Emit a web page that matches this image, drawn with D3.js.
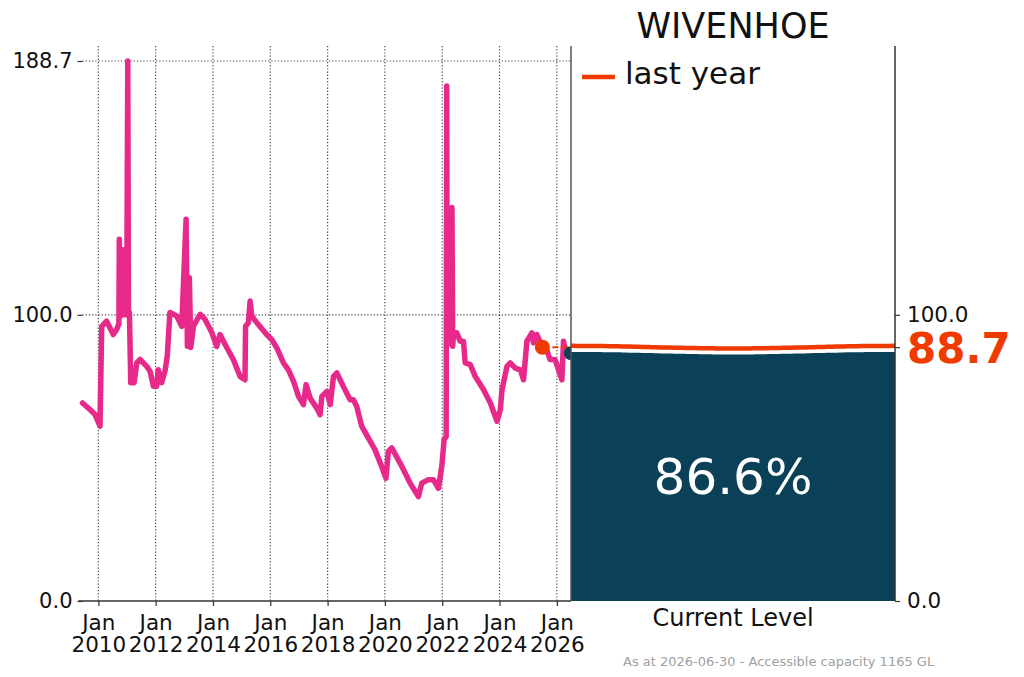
<!DOCTYPE html>
<html><head><meta charset="utf-8">
<script src="https://cdn.jsdelivr.net/npm/d3@7"></script>
<style>
body{margin:0;background:#fff;}
svg{display:block;}
text{font-family:"DejaVu Sans",sans-serif;}
</style>
</head><body>
<svg id="chart" width="1024" height="677"></svg>
<script>
// ---------- data ----------
const dates = [
"2009-06-13","2009-09-16","2009-11-19","2010-01-22","2010-02-13","2010-04-16","2010-07-10","2010-08-22",
"2010-09-20","2010-09-25","2010-10-05","2010-10-13","2010-11-07","2010-11-20","2010-12-10","2010-12-28",
"2011-01-11","2011-01-20","2011-02-01","2011-02-18","2011-04-02","2011-05-06","2011-06-17","2011-09-10",
"2011-10-22","2011-12-04","2012-01-15","2012-02-03","2012-03-17","2012-04-29","2012-05-28","2012-07-01",
"2012-09-26","2012-11-29","2013-01-23","2013-02-09","2013-03-06","2013-03-24","2013-04-27","2013-07-21",
"2013-09-22","2013-12-17","2014-02-18","2014-04-01","2014-06-25","2014-09-17","2014-12-11","2015-02-13",
"2015-02-20","2015-03-28","2015-04-19","2015-05-10","2015-08-02","2015-11-16","2016-01-19","2016-03-23",
"2016-06-17","2016-08-19","2016-10-23","2016-12-26","2017-02-27","2017-04-01","2017-05-23","2017-08-16",
"2017-09-27","2017-10-19","2017-12-22","2018-02-03","2018-03-17","2018-04-29","2018-07-20","2018-10-15",
"2018-11-25","2019-01-07","2019-03-11","2019-08-27","2019-11-21","2020-01-15","2020-02-14","2020-03-28",
"2020-07-13","2020-11-17","2021-03-03","2021-04-15","2021-07-09","2021-09-10","2021-11-13","2021-12-26",
"2022-01-25","2022-02-20","2022-02-27","2022-03-05","2022-03-25","2022-04-10","2022-04-25","2022-05-05",
"2022-05-14","2022-05-26","2022-07-05","2022-08-17","2022-09-29","2022-10-20","2022-12-24","2023-02-25",
"2023-06-12","2023-09-06","2023-11-30","2024-01-12","2024-02-01","2024-04-05","2024-05-17","2024-07-20",
"2024-09-22","2024-11-02","2024-12-15","2025-02-17","2025-03-09","2025-04-20","2025-06-30","2025-08-24",
"2025-10-05","2025-12-08","2026-03-06","2026-03-26","2026-04-17","2026-06-30"
];
const levels = [
69.2,66.9,65.2,61.1,96.0,97.8,93.1,94.9,
97.0,126.4,100.0,99.6,122.7,100.0,100.8,100.0,
188.7,100.8,100.8,76.3,76.3,83.3,84.4,82.0,
80.3,75.0,75.0,80.8,76.3,80.3,85.5,100.8,
99.6,96.0,133.4,89.0,113.0,88.6,96.0,100.2,
98.4,93.8,89.0,93.1,88.6,84.4,78.5,77.3,
96.0,97.2,104.8,99.6,96.6,93.1,91.4,88.5,
83.2,80.8,76.8,71.5,68.6,75.6,70.9,67.4,
65.1,71.5,73.2,68.6,78.5,79.7,75.0,70.3,
70.3,68.0,61.1,52.9,47.0,42.9,52.3,53.5,
48.2,41.2,36.5,41.2,42.4,42.4,39.4,47.0,
56.4,57.5,180.0,91.4,95.0,90.0,135.0,137.5,
89.0,93.7,93.7,90.8,90.8,83.2,82.6,78.5,
73.8,69.2,62.8,66.9,73.8,82.0,83.2,81.4,
80.8,77.3,90.8,93.7,90.2,93.1,88.7,87.8,
84.4,84.4,77.3,90.8,87.8,86.6
];
const yTicks = [0, 100, 188.7];
const xTickYears = [2010,2012,2014,2016,2018,2020,2022,2024,2026];
const currentDate = "2026-06-30";
const currentLevel = 86.6;
const lastYearDate = "2025-06-30";
const lastYearLevel = 88.7;
const titleText = "WIVENHOE";
const legendText = "last year";
const panelLabel = "Current Level";
const footerText = "As at 2026-06-30 - Accessible capacity 1165 GL";

// ---------- style ----------
const PINK = "#e7298a", ORANGE = "#ef3b00", NAVY = "#0b4158", GRID = "#444", AXIS = "#333";
const parse = d3.timeParse("%Y-%m-%d");
const series = dates.map((d,i)=>({date:parse(d), v:levels[i]}));

const svg = d3.select("#chart");
const L = {x0:82.5, x1:571, yTop:46, yBot:601};
const P = {x0:571, x1:895};

const x = d3.scaleTime().domain([parse(dates[0]), parse(currentDate)]).range([L.x0, L.x1]);
const y = d3.scaleLinear().domain([0, 188.7]).range([L.yBot, 61]);

// gridlines
const g = svg.append("g");
const tickDates = xTickYears.map(yr => new Date(yr,0,1));
g.selectAll("line.vg").data(tickDates).join("line")
  .attr("x1",d=>x(d)).attr("x2",d=>x(d)).attr("y1",L.yTop).attr("y2",L.yBot)
  .attr("stroke",GRID).attr("stroke-width",1.2).attr("stroke-dasharray","1.2,2");
g.selectAll("line.hg").data(yTicks.filter(d=>d>0)).join("line")
  .attr("x1",L.x0).attr("x2",L.x1).attr("y1",d=>y(d)).attr("y2",d=>y(d))
  .attr("stroke",GRID).attr("stroke-width",1.2).attr("stroke-dasharray","1.2,2");

// left axis
const yAxis = svg.append("g").attr("transform",`translate(${L.x0},0)`)
  .call(d3.axisLeft(y).tickValues(yTicks).tickFormat(d3.format(".1f")).tickSize(5).tickPadding(5));
yAxis.select(".domain").remove();
yAxis.selectAll("line").attr("stroke",AXIS).attr("stroke-width",1.2);
yAxis.selectAll("text").attr("font-size",21).attr("fill","#111").attr("font-family","DejaVu Sans");

// bottom axis
const xAxis = svg.append("g").attr("transform",`translate(0,${L.yBot})`)
  .call(d3.axisBottom(x).tickValues(tickDates).tickSize(5).tickFormat(""));
xAxis.select(".domain").attr("stroke",AXIS).attr("stroke-width",1.5).attr("d",`M${L.x0-4},0H${L.x1}`);
xAxis.selectAll("line").attr("stroke",AXIS).attr("stroke-width",1.2);
xAxis.selectAll(".tick").each(function(d){
  const t = d3.select(this).append("text").attr("fill","#111").attr("font-size",21.5)
    .attr("text-anchor","middle").attr("font-family","DejaVu Sans");
  t.append("tspan").attr("x",0).attr("y",29).text(d3.timeFormat("%b")(d));
  t.append("tspan").attr("x",0).attr("y",51).text(d3.timeFormat("%Y")(d));
});

// pink line
const line = d3.line().x(d=>x(d.date)).y(d=>y(d.v));
svg.append("path").datum(series).attr("d",line).attr("fill","none")
  .attr("stroke",PINK).attr("stroke-width",5.5).attr("stroke-linejoin","round").attr("stroke-linecap","round");

// dashed line from last year to panel
svg.append("line").attr("x1",x(parse(lastYearDate))).attr("x2",P.x0)
  .attr("y1",y(lastYearLevel)).attr("y2",y(lastYearLevel))
  .attr("stroke",ORANGE).attr("stroke-width",2).attr("stroke-dasharray","6,4");
svg.append("circle").attr("cx",x(parse(lastYearDate))).attr("cy",y(lastYearLevel)).attr("r",7.5).attr("fill",ORANGE);
svg.append("circle").attr("cx",x(parse(currentDate))).attr("cy",y(currentLevel)).attr("r",7).attr("fill",NAVY);

// ---------- right panel ----------
svg.append("rect").attr("x",P.x0).attr("y",L.yTop).attr("width",P.x1-P.x0).attr("height",L.yBot-L.yTop).attr("fill","#fff");
const wave = d3.range(0,1.0001,0.02); // decorative ripple positions
const px = d3.scaleLinear().domain([0,1]).range([P.x0,P.x1]);
const ripple = t => -1.3*Math.cos(2*Math.PI*t);
svg.append("path").datum(wave)
  .attr("d", d3.area().x(t=>px(t)).y0(L.yBot).y1(t=>y(currentLevel)+ripple(t)).curve(d3.curveBasis))
  .attr("fill",NAVY);
const lyLine = d3.line().x(t=>px(t)).y(t=>y(lastYearLevel)+ripple(t)).curve(d3.curveBasis);
svg.append("path").datum(wave).attr("d",lyLine).attr("fill","none").attr("stroke","#fff").attr("stroke-width",8.5);
svg.append("path").datum(wave).attr("d",lyLine).attr("fill","none").attr("stroke",ORANGE).attr("stroke-width",4.5);

// panel spines
svg.append("line").attr("x1",P.x0).attr("x2",P.x0).attr("y1",L.yTop).attr("y2",L.yBot).attr("stroke","#555").attr("stroke-width",1.5);
svg.append("line").attr("x1",P.x1).attr("x2",P.x1).attr("y1",L.yTop).attr("y2",L.yBot).attr("stroke","#333").attr("stroke-width",1.5);

// right axis
const rAxis = svg.append("g").attr("transform",`translate(${P.x1},0)`)
  .call(d3.axisRight(y).tickValues([0,100,lastYearLevel]).tickFormat(d3.format(".1f")).tickSize(5).tickPadding(7));
rAxis.select(".domain").remove();
rAxis.selectAll("line").attr("stroke",AXIS).attr("stroke-width",1.2);
rAxis.selectAll("text").attr("font-size",21.5).attr("fill","#111").attr("font-family","DejaVu Sans");
rAxis.selectAll(".tick").filter(d=>d===lastYearLevel).select("text")
  .attr("font-size",42).attr("font-weight","bold").attr("fill",ORANGE).attr("dy","0.36em");

// texts
svg.append("text").attr("x",733).attr("y",38).attr("text-anchor","middle").attr("font-size",35).attr("fill","#111").text(titleText);
svg.append("line").attr("x1",582).attr("x2",615).attr("y1",77).attr("y2",77).attr("stroke",ORANGE).attr("stroke-width",4.5);
svg.append("text").attr("x",625).attr("y",84).attr("font-size",31).attr("fill","#111").text(legendText);
svg.append("text").attr("x",733).attr("y",494).attr("text-anchor","middle").attr("font-size",50).attr("fill","#fff")
  .text(d3.format(".1f")(currentLevel)+"%");
svg.append("text").attr("x",733).attr("y",626).attr("text-anchor","middle").attr("font-size",24).attr("fill","#111").text(panelLabel);
svg.append("text").attr("x",623).attr("y",666).attr("font-size",13).attr("fill","#a0a0a0").text(footerText);
</script>
</body></html>
